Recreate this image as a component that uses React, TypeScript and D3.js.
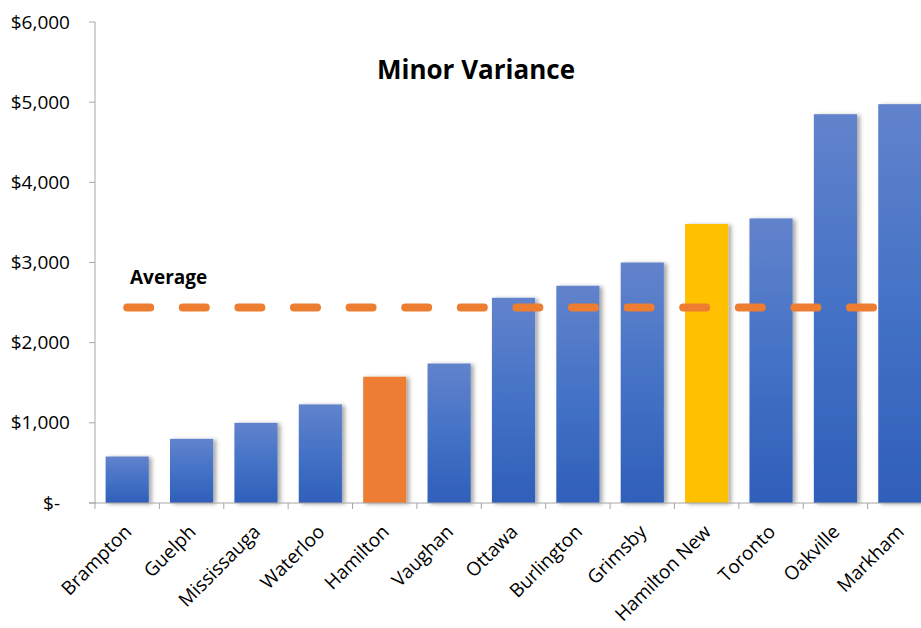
import { useEffect, useRef } from "react";
import * as d3 from "d3";

// Chart data
const cities = [
  "Brampton", "Guelph", "Mississauga", "Waterloo", "Hamilton", "Vaughan", "Ottawa",
  "Burlington", "Grimsby", "Hamilton New", "Toronto", "Oakville", "Markham",
];
const fees = [580, 800, 1000, 1230, 1575, 1740, 2560, 2710, 3000, 3480, 3550, 4850, 4975];
const averageFee = [2440, 2440, 2440, 2440, 2440, 2440, 2440, 2440, 2440, 2440, 2440, 2440, 2440];
const yTicks = [0, 1000, 2000, 3000, 4000, 5000, 6000];
const highlight: Record<string, string> = { Hamilton: "#ED7D31", "Hamilton New": "#FFC000" };

const FONT = "'Open Sans', Lato, sans-serif";

export default function App() {
  const svgRef = useRef<SVGSVGElement>(null);

  useEffect(() => {
    if (!svgRef.current) return;
    const svg = d3.select(svgRef.current);
    svg.selectAll("*").remove();

    const W = 921, H = 628;
    svg.attr("width", W).attr("height", H);

    const x = d3.scaleBand<string>().domain(cities).range([95, 932]).paddingInner(0.33).paddingOuter(0.165);
    const y = d3.scaleLinear().domain([0, 6000]).range([503, 22]);

    const defs = svg.append("defs");
    const grad = defs.append("linearGradient").attr("id", "blueGrad")
      .attr("x1", 0).attr("y1", 0).attr("x2", 0).attr("y2", 1);
    grad.append("stop").attr("offset", "0%").attr("stop-color", "#6283CC");
    grad.append("stop").attr("offset", "50%").attr("stop-color", "#4472C6");
    grad.append("stop").attr("offset", "100%").attr("stop-color", "#2F5FB9");

    const shadow = defs.append("filter").attr("id", "shadow")
      .attr("x", "-20%").attr("y", "-5%").attr("width", "150%").attr("height", "115%");
    shadow.append("feDropShadow").attr("dx", 3).attr("dy", 1).attr("stdDeviation", 2)
      .attr("flood-color", "#000").attr("flood-opacity", 0.35);

    // Bars
    svg.append("g").selectAll("rect")
      .data(cities)
      .enter()
      .append("rect")
      .attr("x", (d) => x(d)!)
      .attr("width", x.bandwidth())
      .attr("y", (_, i) => y(fees[i]))
      .attr("height", (_, i) => y(0) - y(fees[i]))
      .attr("fill", (d) => highlight[d] ?? "url(#blueGrad)")
      .attr("filter", "url(#shadow)");

    // Y axis
    const axisColor = "#A6A6A6";
    svg.append("line").attr("x1", 95).attr("x2", 95).attr("y1", y(6000)).attr("y2", y(0))
      .attr("stroke", axisColor).attr("stroke-width", 1);
    const yg = svg.append("g");
    yTicks.forEach((t) => {
      yg.append("line").attr("x1", 89).attr("x2", 95).attr("y1", y(t)).attr("y2", y(t))
        .attr("stroke", axisColor);
      yg.append("text").attr("x", t === 0 ? 60 : 70).attr("y", y(t)).attr("dy", "0.35em")
        .attr("text-anchor", "end")
        .style("font-family", FONT).style("font-size", "19px").style("fill", "#000")
        .text(t === 0 ? "$-" : d3.format("$,")(t));
    });

    // X axis
    svg.append("line").attr("x1", 89).attr("x2", W).attr("y1", y(0)).attr("y2", y(0))
      .attr("stroke", axisColor);
    const step = x.step();
    cities.forEach((c) => {
      const left = x(c)! - (step - x.bandwidth()) / 2;
      svg.append("line").attr("x1", left).attr("x2", left).attr("y1", y(0)).attr("y2", y(0) + 6)
        .attr("stroke", axisColor);
      const cx = x(c)! + x.bandwidth() / 2;
      svg.append("text")
        .attr("transform", `translate(${cx + 5.5},${y(0) + 30}) rotate(-45)`)
        .attr("text-anchor", "end")
        .style("font-family", FONT).style("font-size", "19px").style("fill", "#000")
        .text(c);
    });

    // Average line
    const line = d3.line<number>()
      .x((_, i) => x(cities[i])! + x.bandwidth() / 2)
      .y((d) => y(d));
    svg.append("path").datum(averageFee)
      .attr("d", line)
      .attr("fill", "none")
      .attr("stroke", "#ED7D31")
      .attr("stroke-width", 8)
      .attr("stroke-linecap", "round")
      .attr("stroke-dasharray", "23,32.6");

    svg.append("text").attr("x", 130).attr("y", 284)
      .style("font-family", FONT).style("font-size", "19px").style("font-weight", "700").style("fill", "#000")
      .text("Average");

    // Title
    svg.append("text").attr("x", 476).attr("y", 79).attr("text-anchor", "middle")
      .style("font-family", FONT).style("font-size", "26px").style("font-weight", "700").style("fill", "#000")
      .text("Minor Variance");

    return () => {
      svg.selectAll("*").remove();
    };
  }, []);

  return (
    <div style={{ position: "absolute", left: 0, top: 0, width: 921, height: 628, background: "#fff", overflow: "hidden" }}>
      <svg ref={svgRef} style={{ display: "block" }} />
    </div>
  );
}
